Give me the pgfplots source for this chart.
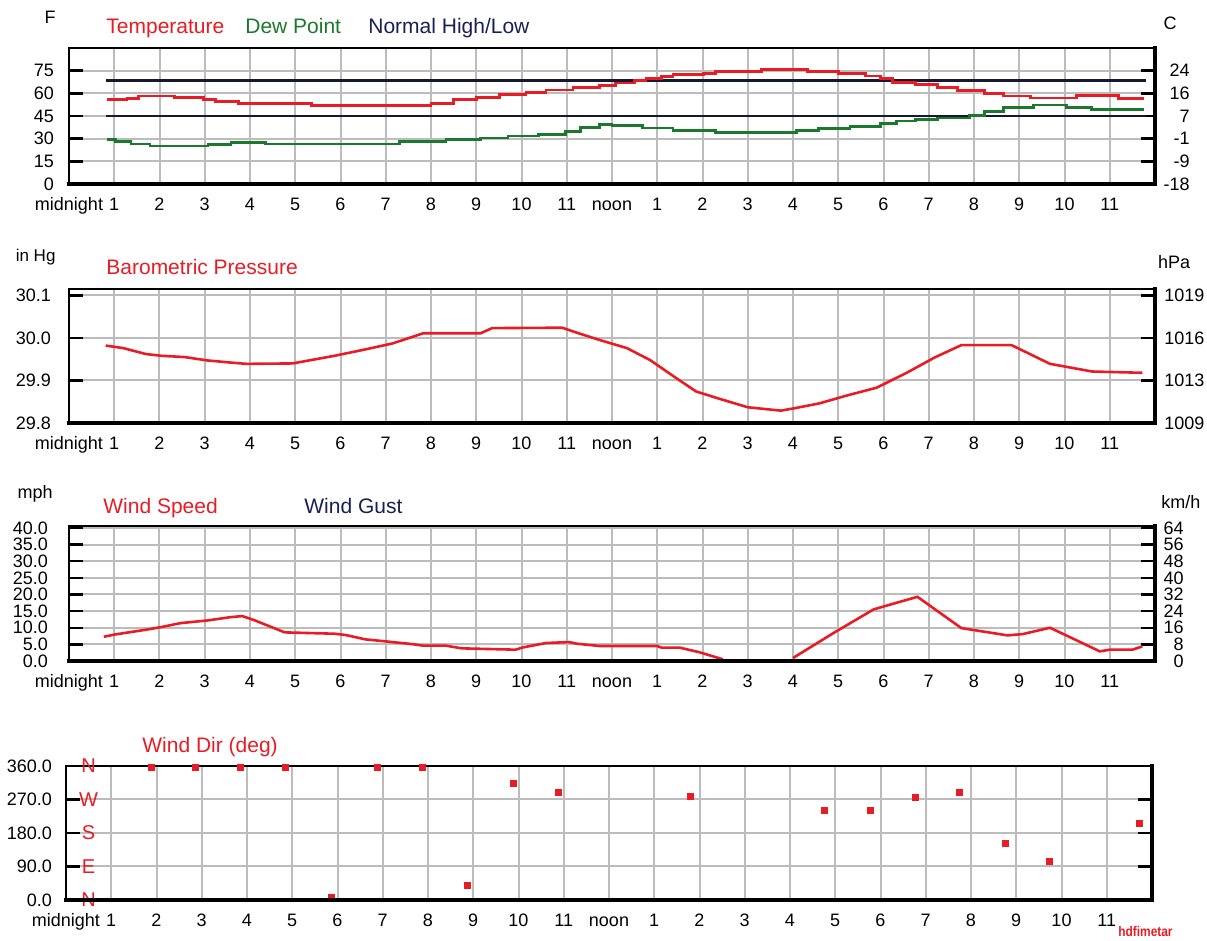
\documentclass[border=0pt]{standalone}
\usepackage{fontspec}
\setmainfont{Liberation Sans}
\usepackage{graphicx}
\usepackage{pgfplots}
\pgfplotsset{compat=1.18}

\definecolor{wxred}{RGB}{232,28,36}
\definecolor{wxgreen}{RGB}{28,120,44}
\definecolor{wxnavy}{RGB}{24,32,82}
\definecolor{wxline}{RGB}{22,24,48}
\definecolor{wxgrid}{RGB}{188,188,188}

\tikzset{compass/.style={text=wxred, font=\fontsize{10}{12}\selectfont, inner sep=0pt}}

\pgfplotsset{
  panel/.style={
    scale only axis, width=543pt, anchor=south west,
    xmin=0, xmax=24,
    xtick={0,...,23},
    xticklabels={midnight,1,2,3,4,5,6,7,8,9,10,11,noon,1,2,3,4,5,6,7,8,9,10,11},
    xtick style={draw=none},
    minor xtick={1,...,23},
    minor tick length=3.5pt,
    minor tick style={black, line width=1pt},
    xtick pos=left, ytick pos=both, yticklabel pos=left,
    tick align=inside,
    major tick length=7pt,
    ytick style={black, line width=1.2pt},
    grid=major,
    major grid style={wxgrid, line width=1pt},
    axis line style={black, line width=1.2pt},
    tick label style={font=\fontsize{9}{10}\selectfont, text=black},
    xticklabel style={yshift=-3pt, text height=6.5pt, text depth=2pt},
    after end axis/.code={\draw[black, line width=2.2pt, line cap=rect]
      (rel axis cs:0,0) -- (rel axis cs:1,0) -- (rel axis cs:1,1);},
  },
  rightlabels/.style={
    scale only axis, width=543pt, anchor=south west,
    xmin=0, xmax=24, hide x axis,
    axis y line*=right, y axis line style={draw=none},
    ytick style={draw=none},
    tick label style={font=\fontsize{9}{10}\selectfont},
  },
}

\begin{document}
\begin{tikzpicture}
\useasboundingbox (0pt,0pt) rectangle (603.5pt,470.5pt);

% ---------- Temperature / dew point ----------
\begin{axis}[panel, at={(34.5pt,378.5pt)}, height=68pt,
  ymin=0, ymax=90, ytick={0,15,30,45,60,75},
  yticklabels={0,15,30,45,60,75}, yticklabel style={xshift=-4pt}]
\addplot[wxline, line width=1.4pt] coordinates {(0.82,68.5) (23.8,68.5)};
\addplot[wxline, line width=1.4pt] coordinates {(0.82,45) (23.8,45)};
\addplot[wxred, line width=1.4pt, const plot] coordinates {
 (0.84,55.8) (1.28,56.8) (1.53,58.2) (2.34,57.0) (2.98,56.0) (3.23,54.5)
 (3.74,53.0) (5.36,51.7) (8.0,53.2) (8.5,55.7) (9.0,57.4) (9.52,59.0)
 (10.1,60.3) (10.54,62.2) (11.14,63.9) (11.73,65.3) (12.07,66.8) (12.5,68.3)
 (12.75,70.0) (13.09,71.0) (13.35,72.3) (14.03,73.1) (14.28,74.3) (15.3,75.5)
 (16.32,74.4) (17.0,73.1) (17.6,71.5) (17.94,69.9) (18.2,67.4) (18.7,65.6)
 (19.2,64.1) (19.64,62.0) (20.23,60.0) (20.66,58.2) (21.25,56.9) (22.27,58.5)
 (23.2,56.4) (23.75,56.4)};
\addplot[wxgreen, line width=1.4pt, const plot] coordinates {
 (0.84,29.3) (1.03,27.9) (1.37,26.5) (1.79,25.1) (3.07,26.2) (3.58,27.3)
 (4.34,26.4) (7.31,27.9) (8.33,29.4) (9.1,30.4) (9.7,31.8) (10.38,33.0)
 (10.97,34.7) (11.31,37.5) (11.73,39.6) (12.0,38.8) (12.67,37.1) (13.35,35.4)
 (14.28,34.1) (16.07,35.4) (16.57,36.5) (17.26,38.2) (17.94,40.1) (18.28,41.7)
 (18.7,42.8) (19.2,43.6) (19.9,45.5) (20.23,47.8) (20.66,50.4) (21.32,52.3)
 (22.05,50.6) (22.6,49.2) (23.75,49.2)};
\end{axis}
\begin{axis}[rightlabels, at={(34.5pt,378.5pt)}, height=68pt,
  ymin=0, ymax=90, ytick={0,15,30,45,60,75},
  yticklabels={-18,-9,-1,7,16,24},
  yticklabel style={anchor=east, inner sep=0pt, xshift=17.5pt}]
\end{axis}

% ---------- Barometric pressure ----------
\begin{axis}[panel, at={(34.5pt,259pt)}, height=67pt,
  ymin=29.8, ymax=30.115, ytick={29.8,29.9,30.0,30.1},
  yticklabels={29.8,29.9,30.0,30.1}, yticklabel style={xshift=-5.5pt}]
\addplot[wxred, line width=1.3pt] coordinates {
 (0.81,29.982) (1.2,29.976) (1.70,29.962) (2.04,29.958) (2.55,29.955)
 (3.06,29.947) (3.58,29.942) (3.92,29.939) (4.94,29.940) (5.2,29.945)
 (5.87,29.958) (6.55,29.973) (7.15,29.987) (7.83,30.011) (9.1,30.011)
 (9.35,30.023) (10.9,30.024) (11.2,30.013) (11.73,29.995) (12.33,29.976)
 (12.84,29.948) (13.44,29.904) (13.86,29.874) (14.37,29.857) (15.0,29.837)
 (15.73,29.829) (16.0,29.834) (16.58,29.846) (17.17,29.864) (17.85,29.883)
 (18.53,29.919) (19.13,29.954) (19.72,29.983) (20.83,29.983) (21.68,29.939)
 (22.61,29.921) (23.72,29.918)};
\end{axis}
\begin{axis}[rightlabels, at={(34.5pt,259pt)}, height=67pt,
  ymin=29.8, ymax=30.115, ytick={29.8,29.9,30.0,30.1},
  yticklabels={1009,1013,1016,1019},
  yticklabel style={anchor=west, inner sep=0pt, xshift=4.5pt}]
\end{axis}

% ---------- Wind speed ----------
\begin{axis}[panel, at={(34.5pt,140pt)}, height=67.5pt,
  ymin=0, ymax=40.6, ytick={0,5,10,15,20,25,30,35,40},
  yticklabels={0.0,5.0,10.0,15.0,20.0,25.0,30.0,35.0,40.0},
  yticklabel style={xshift=-7pt}, unbounded coords=jump]
\addplot[wxred, line width=1.3pt] coordinates {
 (0.77,7.3) (1.03,8.0) (1.7,9.4) (2.04,10.2) (2.47,11.4) (3.07,12.2)
 (3.58,13.2) (3.83,13.5) (4.09,12.3) (4.77,8.6) (5.87,8.2) (6.12,7.8)
 (6.55,6.5) (7.07,5.8) (7.57,5.1) (7.83,4.6) (8.33,4.6) (8.68,3.8)
 (9.87,3.4) (10.04,4.1) (10.54,5.4) (11.05,5.7) (11.22,5.2) (11.73,4.5)
 (13.0,4.5) (13.1,4.0) (13.5,4.0) (13.94,2.6) (14.45,0.5) (15.2,nan)
 (16.0,0.9) (16.93,8.7) (17.78,15.5) (18.03,16.5) (18.75,19.3) (19.72,9.9)
 (20.23,8.8) (20.74,7.7) (21.08,8.1) (21.68,10.0) (22.78,2.9) (23.0,3.4)
 (23.5,3.4) (23.72,4.4)};
\end{axis}
\begin{axis}[rightlabels, at={(34.5pt,140pt)}, height=67.5pt,
  ymin=0, ymax=40.6, ytick={0,5,10,15,20,25,30,35,40},
  yticklabels={0,8,16,24,32,40,48,56,64},
  yticklabel style={anchor=east, inner sep=0pt, xshift=14.5pt}]
\end{axis}

% ---------- Wind direction ----------
\begin{axis}[panel, at={(33pt,20.5pt)}, height=67pt, clip=false,
  ymin=0, ymax=360, ytick={0,90,180,270,360},
  yticklabels={0.0,90.0,180.0,270.0,360.0}, yticklabel style={xshift=-3.5pt}]
\addplot[only marks, mark=square*, mark size=1.5pt, wxred] coordinates {
 (1.88,357) (2.86,357) (3.86,357) (4.85,357) (5.86,8) (6.88,356) (7.88,355)
 (8.87,40) (9.88,312) (10.88,290) (13.8,278) (16.77,242) (17.78,241)
 (18.78,276) (19.75,289) (20.75,151) (21.74,105) (23.72,207)};
\node[compass] at (axis cs:0.5,360) {N};
\node[compass] at (axis cs:0.5,270) {W};
\node[compass] at (axis cs:0.5,180) {S};
\node[compass] at (axis cs:0.5,90) {E};
\node[compass] at (axis cs:0.5,0) {N};
\end{axis}

% ---------- titles, legends, units ----------
\node[anchor=base, inner sep=0pt, font=\fontsize{9}{10}\selectfont] at (25pt,458.75pt) {F};
\node[anchor=base, inner sep=0pt, font=\fontsize{9}{10}\selectfont] at (585pt,455.9pt) {C};
\node[anchor=base west, inner sep=0pt, font=\fontsize{10.5}{12}\selectfont, text=wxred] at (53pt,453.75pt) {Temperature};
\node[anchor=base west, inner sep=0pt, font=\fontsize{10.5}{12}\selectfont, text=wxgreen] at (122.5pt,453.75pt) {Dew Point};
\node[anchor=base west, inner sep=0pt, font=\fontsize{10.5}{12}\selectfont, text=wxnavy] at (184pt,453.75pt) {Normal High/Low};

\node[anchor=base west, inner sep=0pt, font=\fontsize{8.5}{10}\selectfont] at (7.7pt,339.7pt) {in Hg};
\node[anchor=base west, inner sep=0pt, font=\fontsize{10.5}{12}\selectfont, text=wxred] at (53pt,333pt) {Barometric Pressure};
\node[anchor=base west, inner sep=0pt, font=\fontsize{9}{10}\selectfont] at (578.8pt,336pt) {hPa};

\node[anchor=base west, inner sep=0pt, font=\fontsize{9}{10}\selectfont] at (8.6pt,221.3pt) {mph};
\node[anchor=base west, inner sep=0pt, font=\fontsize{10.5}{12}\selectfont, text=wxred] at (51.5pt,213.8pt) {Wind Speed};
\node[anchor=base west, inner sep=0pt, font=\fontsize{10.5}{12}\selectfont, text=wxnavy] at (152pt,213.8pt) {Wind Gust};
\node[anchor=base west, inner sep=0pt, font=\fontsize{9}{10}\selectfont] at (580.5pt,216.3pt) {km/h};

\node[anchor=base west, inner sep=0pt, font=\fontsize{10.5}{12}\selectfont, text=wxred] at (71pt,94.3pt) {Wind Dir (deg)};
\node[anchor=base west, inner sep=0pt, font=\fontsize{7}{8}\selectfont\bfseries, text=wxred] at (559pt,2.2pt) {\scalebox{0.85}[1]{hdfimetar}};
\end{tikzpicture}
\end{document}
